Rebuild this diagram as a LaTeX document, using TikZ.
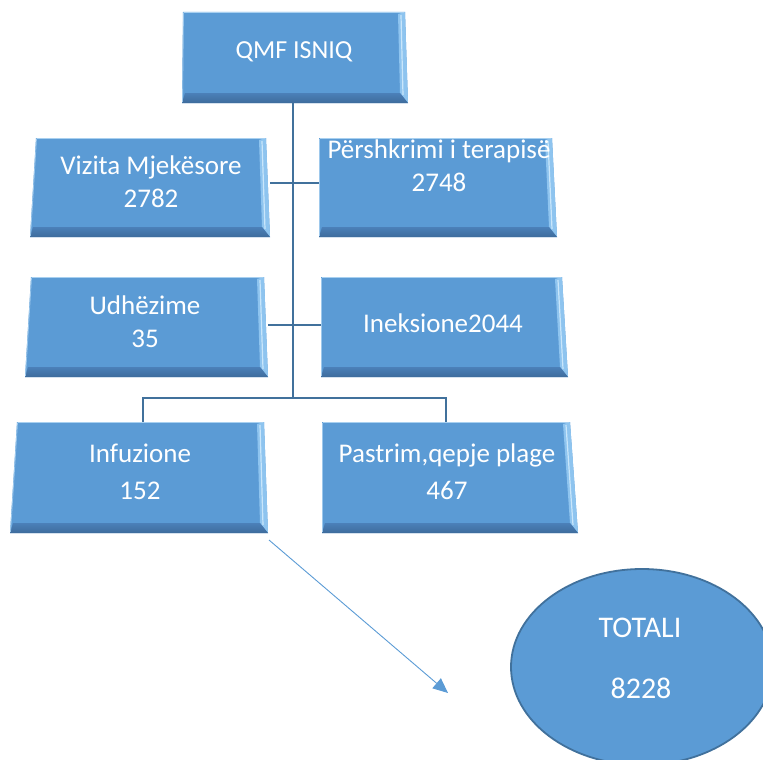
\documentclass[tikz,border=0pt]{standalone}
\usepackage{fontspec}
\setmainfont{Carlito}
\usetikzlibrary{shapes.geometric,arrows.meta,fit,calc}
\definecolor{boxblue}{HTML}{5B9BD5}
\definecolor{edgeblue}{HTML}{41719C}
\definecolor{bevlight}{HTML}{8EC4EF}
\definecolor{bevhi}{HTML}{C9E6FB}
\definecolor{bevdark}{HTML}{4B80B9}
\definecolor{bevdarker}{HTML}{3E6C9C}
\tikzset{
  lbl/.style={text=white, align=center, inner sep=0pt, font=\fontsize{27}{33}\selectfont},
  biglbl/.style={text=white, align=center, inner sep=0pt, font=\fontsize{30}{34}\selectfont},
  trunk/.style={draw=edgeblue, line width=2.6pt},
  branch/.style={draw=edgeblue, line width=1.6pt},
  arrowline/.style={draw=boxblue, line width=0.9pt, -{Triangle[length=15pt,width=13pt]}},
  totshape/.style={ellipse, draw=edgeblue, line width=1.8pt, fill=boxblue, inner sep=0pt}
}
% #1 name, #2 x left top, #3 x left bottom, #4 x right top, #5 x right bottom, #6 y top, #7 y bottom
\newcommand\bevbox[7]{%
  \fill[boxblue] (#2,#6) -- (#4,#6) -- (#5,#7) -- (#3,#7) -- cycle;
  \fill[bevlight] (#4,#6) -- (#5,#7) -- (#5-8,#7-10) -- (#4-7,#6+2) -- cycle;
  \draw[bevhi, line width=1.2pt] (#4-4,#6+3) -- (#5-5,#7-8);
  \shade[top color=bevdark, bottom color=bevdarker] (#3,#7) -- (#5,#7) -- (#5-8,#7-10) -- (#3+3,#7-10) -- cycle;
  \draw[bevhi!70!boxblue, line width=0.8pt] (#2+0.5,#6+0.5) -- (#4-1,#6+0.5);
  \draw[bevhi!60!boxblue, line width=0.8pt] (#2+0.5,#6+0.5) -- (#3+0.5,#7-1);
  \node[fit={(#2,#6) (#5,#7)}, inner sep=0pt] (#1) {};
}
\begin{document}
\begin{tikzpicture}[x={(1pt,0)}, y={(0,-1pt)}]
\useasboundingbox (0,0) rectangle (763,760);
\clip (0,0) rectangle (763,760);

% boxes
\bevbox{qmf}{183}{182}{405}{408}{12}{103}
\bevbox{viz}{36}{30}{266}{270}{138}{237}
\bevbox{per}{319}{319}{552}{557}{138}{237}
\bevbox{udh}{31}{25}{264}{268}{277}{377}
\bevbox{ine}{321}{321}{562}{568}{277}{377}
\bevbox{inf}{17}{10}{264}{268}{422}{533}
\bevbox{pas}{322}{322}{570}{578}{422}{533}

% texts
\node[lbl, font=\fontsize{26}{33}\selectfont] (tqmf) at (294,52) {QMF ISNIQ};
\node[lbl] (tviz) at (151,181.5) {Vizita Mjekësore\\2782};
\node[lbl] (tper) at (439,166) {Përshkrimi i terapisë\\2748};
\node[lbl] (tudh) at (145,321.5) {Udhëzime\\35};
\node[lbl] (tine) at (443,323) {Ineksione2044};
\node[lbl, font=\fontsize{27}{37}\selectfont] (tinf) at (140,471.5) {Infuzione\\152};
\node[lbl, font=\fontsize{27}{37}\selectfont] (tpas) at (447,471.5) {Pastrim,qepje plage\\467};

% connectors
\coordinate (brk) at (293,398);
\coordinate (brl) at (143,398);
\coordinate (brr) at (446,398);
\draw[trunk] (qmf.south -| brk) -- (brk);
\draw[branch] (viz.east |- 0,183) -- (per.west |- 0,183);
\draw[branch] (udh.east |- 0,325) -- (ine.west |- 0,325);
\draw[branch, line width=2pt] (inf.north -| brl) -- (brl) -- (brr) -- (pas.north -| brr);

% total ellipse
\node[totshape, minimum width=262pt, minimum height=196pt] (tot) at (642,667) {};
\node[biglbl] (ttot) at (640,628) {TOTALI};
\node[biglbl] (tsum) at (641,688) {8228};

% arrow
\coordinate (as) at (269,540);
\coordinate (ae) at (448,693);
\draw[arrowline] (as) -- (ae);
\end{tikzpicture}
\end{document}
